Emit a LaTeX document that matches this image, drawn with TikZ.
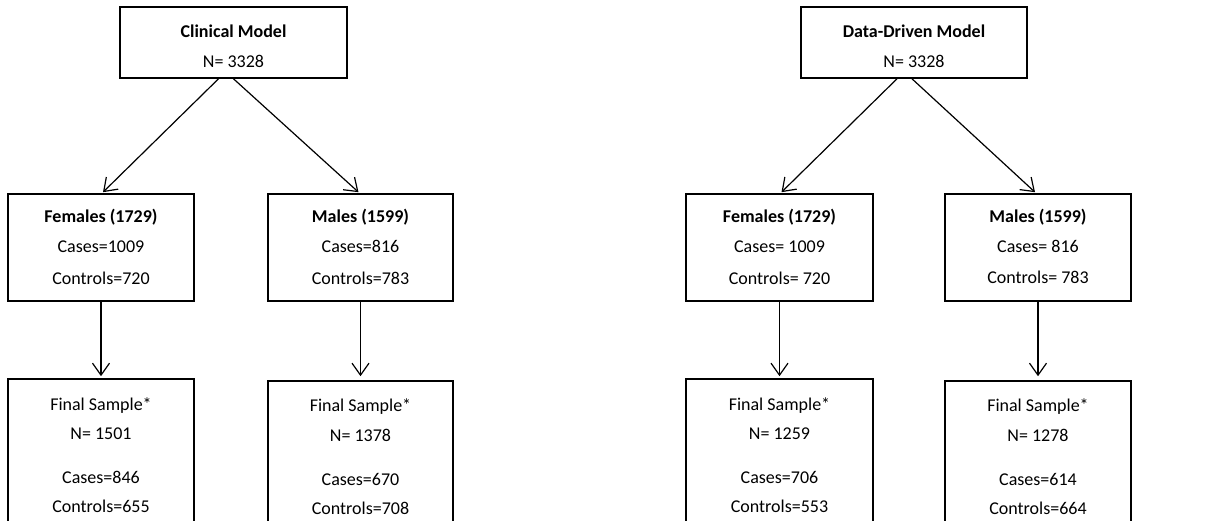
\documentclass[tikz,border=0pt]{standalone}
\usepackage{fontspec}
\setmainfont{Carlito}
\usetikzlibrary{arrows.meta,calc}

\begin{document}
\begin{tikzpicture}[x=1pt,y=-1pt,
  box/.style={draw=black,line width=1.6pt,inner sep=0pt},
  txt/.style={anchor=base,inner sep=0pt,font=\fontsize{18}{20}\selectfont},
  flow/.style={draw=black,line width=1.2pt,-{Straight Barb[length=12pt,width=17pt,line width=1.2pt]}}
]
\useasboundingbox (0,0) rectangle (1219,521);
\clip (0,0) rectangle (1219,521);

% ---------- Clinical model ----------
\node[box,minimum width=227pt,minimum height=71pt] (clin) at (233.5,42.5) {};
\node[txt] (clinA) at (233.5,38) {\textbf{Clinical Model}};
\node[txt] (clinB) at (233.5,68) {N= 3328};

\node[box,minimum width=186pt,minimum height=107pt] (f1) at (101,247.5) {};
\node[txt] (f1A) at (101,223) {\textbf{Females (1729)}};
\node[txt] (f1B) at (101,253) {Cases=1009};
\node[txt] (f1C) at (101,285) {Controls=720};

\node[box,minimum width=185pt,minimum height=107pt] (m1) at (360.5,247.5) {};
\node[txt] (m1A) at (360.5,223) {\textbf{Males (1599)}};
\node[txt] (m1B) at (360.5,253) {Cases=816};
\node[txt] (m1C) at (360.5,285) {Controls=783};

\node[box,minimum width=186pt,minimum height=170pt] (fs1) at (101,464) {};
\node[txt] (fs1A) at (101,410) {Final Sample*};
\node[txt] (fs1B) at (101,439) {N= 1501};
\node[txt] (fs1C) at (101,483) {Cases=846};
\node[txt] (fs1D) at (101,512) {Controls=655};

\node[box,minimum width=185pt,minimum height=170pt] (ms1) at (360.5,466) {};
\node[txt] (ms1A) at (360.5,412) {Final Sample*};
\node[txt] (ms1B) at (360.5,441) {N= 1378};
\node[txt] (ms1C) at (360.5,485) {Cases=670};
\node[txt] (ms1D) at (360.5,514) {Controls=708};

\draw[flow] ($(clin.south)+(-15,0)$) -- ($(f1.north)+(2,-1)$);
\draw[flow] ($(clin.south)+(0,0)$) -- ($(m1.north)+(-2,-1)$);
\draw[flow] (f1.south) -- ($(fs1.north)+(0,-2)$);
\draw[flow] (m1.south) -- ($(ms1.north)+(0,-4)$);

% ---------- Data-driven model ----------
\node[box,minimum width=226pt,minimum height=71pt] (dd) at (914,42.5) {};
\node[txt] (ddA) at (914,38) {\textbf{Data-Driven Model}};
\node[txt] (ddB) at (914,68) {N= 3328};

\node[box,minimum width=187pt,minimum height=107pt] (f2) at (779.5,247.5) {};
\node[txt] (f2A) at (779.5,223) {\textbf{Females (1729)}};
\node[txt] (f2B) at (779.5,253) {Cases= 1009};
\node[txt] (f2C) at (779.5,285) {Controls= 720};

\node[box,minimum width=186pt,minimum height=107pt] (m2) at (1038,247.5) {};
\node[txt] (m2A) at (1038,223) {\textbf{Males (1599)}};
\node[txt] (m2B) at (1038,253) {Cases= 816};
\node[txt] (m2C) at (1038,284) {Controls= 783};

\node[box,minimum width=187pt,minimum height=170pt] (fs2) at (779.5,464) {};
\node[txt] (fs2A) at (779.5,410) {Final Sample*};
\node[txt] (fs2B) at (779.5,439) {N= 1259};
\node[txt] (fs2C) at (779.5,483) {Cases=706};
\node[txt] (fs2D) at (779.5,512) {Controls=553};

\node[box,minimum width=186pt,minimum height=170pt] (ms2) at (1038,466) {};
\node[txt] (ms2A) at (1038,412) {Final Sample*};
\node[txt] (ms2B) at (1038,441) {N= 1278};
\node[txt] (ms2C) at (1038,485) {Cases=614};
\node[txt] (ms2D) at (1038,514) {Controls=664};

\draw[flow] ($(dd.south)+(-17,0)$) -- ($(f2.north)+(2,-1)$);
\draw[flow] ($(dd.south)+(-2,0)$) -- ($(m2.north)+(-3,-1)$);
\draw[flow] (f2.south) -- ($(fs2.north)+(0,-2)$);
\draw[flow] (m2.south) -- ($(ms2.north)+(0,-4)$);
\end{tikzpicture}
\end{document}
